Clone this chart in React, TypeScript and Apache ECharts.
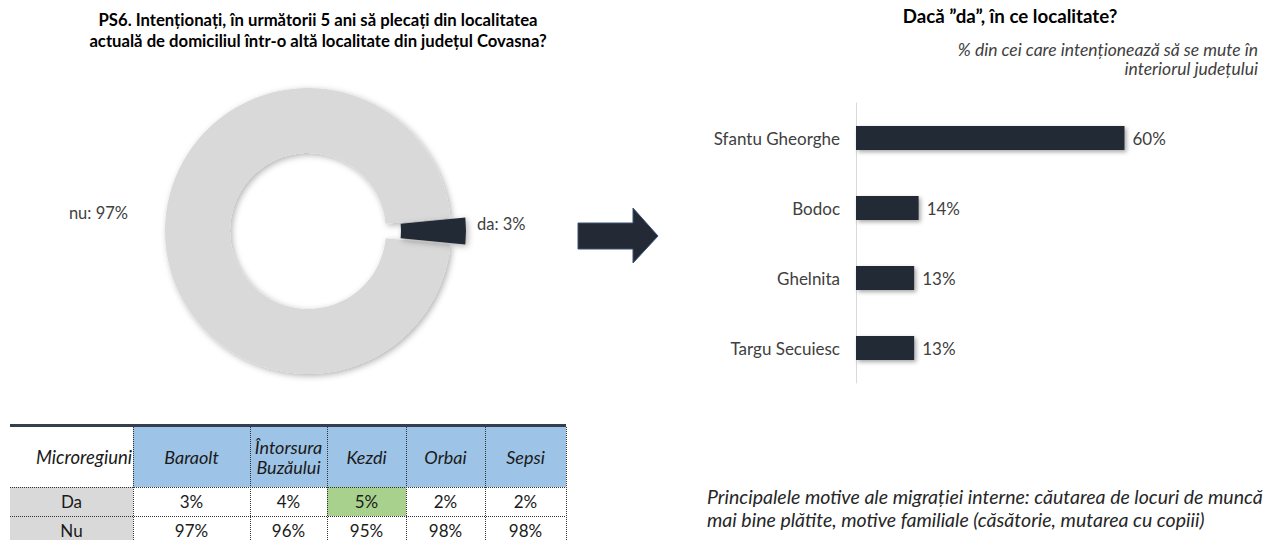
import React, { useEffect, useRef } from "react";
import * as echarts from "echarts";

// ---- Data ----
const pieNames = ["nu", "da"];
const pieValues = [97, 3];

const localities = ["Sfantu Gheorghe", "Bodoc", "Ghelnita", "Targu Secuiesc"];
const localityShares = [60, 14, 13, 13];

const regionHeader = "Microregiuni";
const regions = ["Baraolt", "Întorsura\nBuzăului", "Kezdi", "Orbai", "Sepsi"];
const rowLabels = ["Da", "Nu"];
const daShares = [3, 4, 5, 2, 2];
const nuShares = [97, 96, 95, 98, 98];

const leftTitle =
  "PS6. Intenționați, în următorii 5 ani să plecați din localitatea\nactuală de domiciliul într-o altă localitate din județul Covasna?";
const rightTitle = "Dacă ”da”, în ce localitate?";
const rightSubtitle = "% din cei care intenționează să se mute în\ninteriorul județului";
const note =
  "Principalele motive ale migrației interne: căutarea de locuri de muncă\nmai bine plătite, motive familiale (căsătorie, mutarea cu copiii)";

const FONT = "Lato, 'Open Sans', sans-serif";
const DARK = "#242A35";

function buildTable(): any[] {
  const xs = [10, 133, 250, 327, 406, 485, 566];
  const topY = 427;
  const headerBottom = 487;
  const rowH = 29;
  const rowsY = [headerBottom, headerBottom + rowH, headerBottom + 2 * rowH];
  const els: any[] = [];
  const maxDa = Math.max(...daShares);
  els.push({ type: "rect", shape: { x: xs[0], y: topY - 3, width: xs[6] - xs[0], height: 3 }, style: { fill: "#333F50" } });
  regions.forEach((r, i) => {
    els.push({ type: "rect", shape: { x: xs[i + 1], y: topY, width: xs[i + 2] - xs[i + 1], height: headerBottom - topY }, style: { fill: "#9DC3E6" } });
    els.push({
      type: "text",
      style: {
        text: r,
        x: (xs[i + 1] + xs[i + 2]) / 2,
        y: (topY + headerBottom) / 2,
        align: "center",
        verticalAlign: "middle",
        fontSize: 18,
        fontStyle: "italic",
        fontFamily: FONT,
        fill: "#1a1a1a",
        lineHeight: 20,
      },
    });
  });
  els.push({
    type: "text",
    style: {
      text: regionHeader,
      x: xs[1] - 1,
      y: (topY + headerBottom) / 2,
      align: "right",
      verticalAlign: "middle",
      fontSize: 18.5,
      fontStyle: "italic",
      fontFamily: FONT,
      fill: "#1a1a1a",
    },
  });
  const rows = [daShares, nuShares];
  rows.forEach((vals, ri) => {
    const y0 = rowsY[ri];
    els.push({ type: "rect", shape: { x: xs[0], y: y0, width: xs[1] - xs[0], height: rowH }, style: { fill: "#D9D9D9" } });
    els.push({
      type: "text",
      style: { text: rowLabels[ri], x: (xs[0] + xs[1]) / 2, y: y0 + rowH / 2, align: "center", verticalAlign: "middle", fontSize: 17, fontFamily: FONT, fill: "#1a1a1a" },
    });
    vals.forEach((v, ci) => {
      if (ri === 0 && v === maxDa) {
        els.push({ type: "rect", shape: { x: xs[ci + 1], y: y0, width: xs[ci + 2] - xs[ci + 1], height: rowH }, style: { fill: "#A9D18E" } });
      }
      els.push({
        type: "text",
        style: { text: v + "%", x: (xs[ci + 1] + xs[ci + 2]) / 2, y: y0 + rowH / 2, align: "center", verticalAlign: "middle", fontSize: 17, fontFamily: FONT, fill: "#1a1a1a" },
      });
    });
  });
  const dot = { stroke: "#333", lineWidth: 1, lineDash: [1, 1] };
  for (let i = 1; i < xs.length; i++) {
    els.push({ type: "line", shape: { x1: xs[i] + 0.5, y1: topY, x2: xs[i] + 0.5, y2: 545 }, style: dot });
  }
  [rowsY[0], rowsY[1]].forEach((y) => {
    els.push({ type: "line", shape: { x1: xs[0], y1: y + 0.5, x2: xs[6], y2: y + 0.5 }, style: dot });
  });
  return els;
}

export default function App() {
  const ref = useRef<HTMLDivElement>(null);
  useEffect(() => {
    document.body.style.margin = "0";
    if (!ref.current) return;
    const chart = echarts.init(ref.current, undefined, { renderer: "svg" });
    const option: any = {
      animation: false,
      backgroundColor: "#ffffff",
      grid: { left: 856, top: 103, width: 358, height: 280 },
      xAxis: { type: "value", min: 0, max: 80, show: false },
      yAxis: {
        type: "category",
        data: localities,
        inverse: true,
        axisLine: { show: true, lineStyle: { color: "#D9D9D9", width: 1 } },
        axisTick: { show: false },
        axisLabel: { fontSize: 17, color: "#404040", margin: 16, fontFamily: FONT },
      },
      series: [
        {
          type: "pie",
          center: [308, 231],
          radius: [78, 143],
          startAngle: -5.4,
          clockwise: true,
          avoidLabelOverlap: false,
          selectedMode: "single",
          selectedOffset: 15,
          emphasis: { disabled: true },
          label: {
            show: true,
            position: "outside",
            formatter: "{b}: {c}%",
            fontSize: 16.5,
            color: "#404040",
            fontFamily: FONT,
          },
          labelLine: { show: false, length: 32, length2: 0 },
          labelLayout: (p: any) => (p.dataIndex === 0 ? { dy: -18 } : { dy: -7 }),
          data: pieNames.map((n, i) => ({
            name: n,
            value: pieValues[i],
            selected: i === 1,
            itemStyle: {
              color: i === 1 ? DARK : "#D9D9D9",
              shadowBlur: 6,
              shadowColor: "rgba(0,0,0,0.3)",
              shadowOffsetX: 2,
              shadowOffsetY: 2,
            },
            labelLine: { length: i === 1 ? 6 : 32, length2: 0 },
          })),
        },
        {
          type: "bar",
          data: localityShares,
          barWidth: 24,
          itemStyle: { color: DARK, shadowBlur: 4, shadowColor: "rgba(0,0,0,0.35)", shadowOffsetX: 2, shadowOffsetY: 2 },
          label: { show: true, position: "right", distance: 8, formatter: "{c}%", fontSize: 17, color: "#404040", fontFamily: FONT },
          emphasis: { disabled: true },
        },
      ],
      graphic: [
        {
          type: "text",
          style: { text: leftTitle, x: 318, y: 30, align: "center", verticalAlign: "middle", fontSize: 16.7, fontWeight: "bold", fontFamily: FONT, fill: "#000", lineHeight: 21 },
        },
        {
          type: "text",
          style: { text: rightTitle, x: 1010, y: 16, align: "center", verticalAlign: "middle", fontSize: 18.7, fontWeight: "bold", fontFamily: FONT, fill: "#000" },
        },
        {
          type: "text",
          style: { text: rightSubtitle, x: 1258, y: 59, align: "right", verticalAlign: "middle", fontSize: 17.5, fontStyle: "italic", fontFamily: FONT, fill: "#404040", lineHeight: 19 },
        },
        {
          type: "text",
          style: { text: note, x: 707, y: 508, align: "left", verticalAlign: "middle", fontSize: 19.5, fontStyle: "italic", fontFamily: FONT, fill: "#262626", lineHeight: 23 },
        },
        {
          type: "polygon",
          shape: { points: [[578, 223], [633, 223], [633, 208], [658, 236], [633, 263], [633, 249], [578, 249]] },
          style: { fill: DARK, stroke: "#3A5373", lineWidth: 1 },
        },
        ...buildTable(),
      ],
    };
    chart.setOption(option);
    return () => chart.dispose();
  }, []);
  return <div ref={ref} style={{ width: 1272, height: 540 }} />;
}
